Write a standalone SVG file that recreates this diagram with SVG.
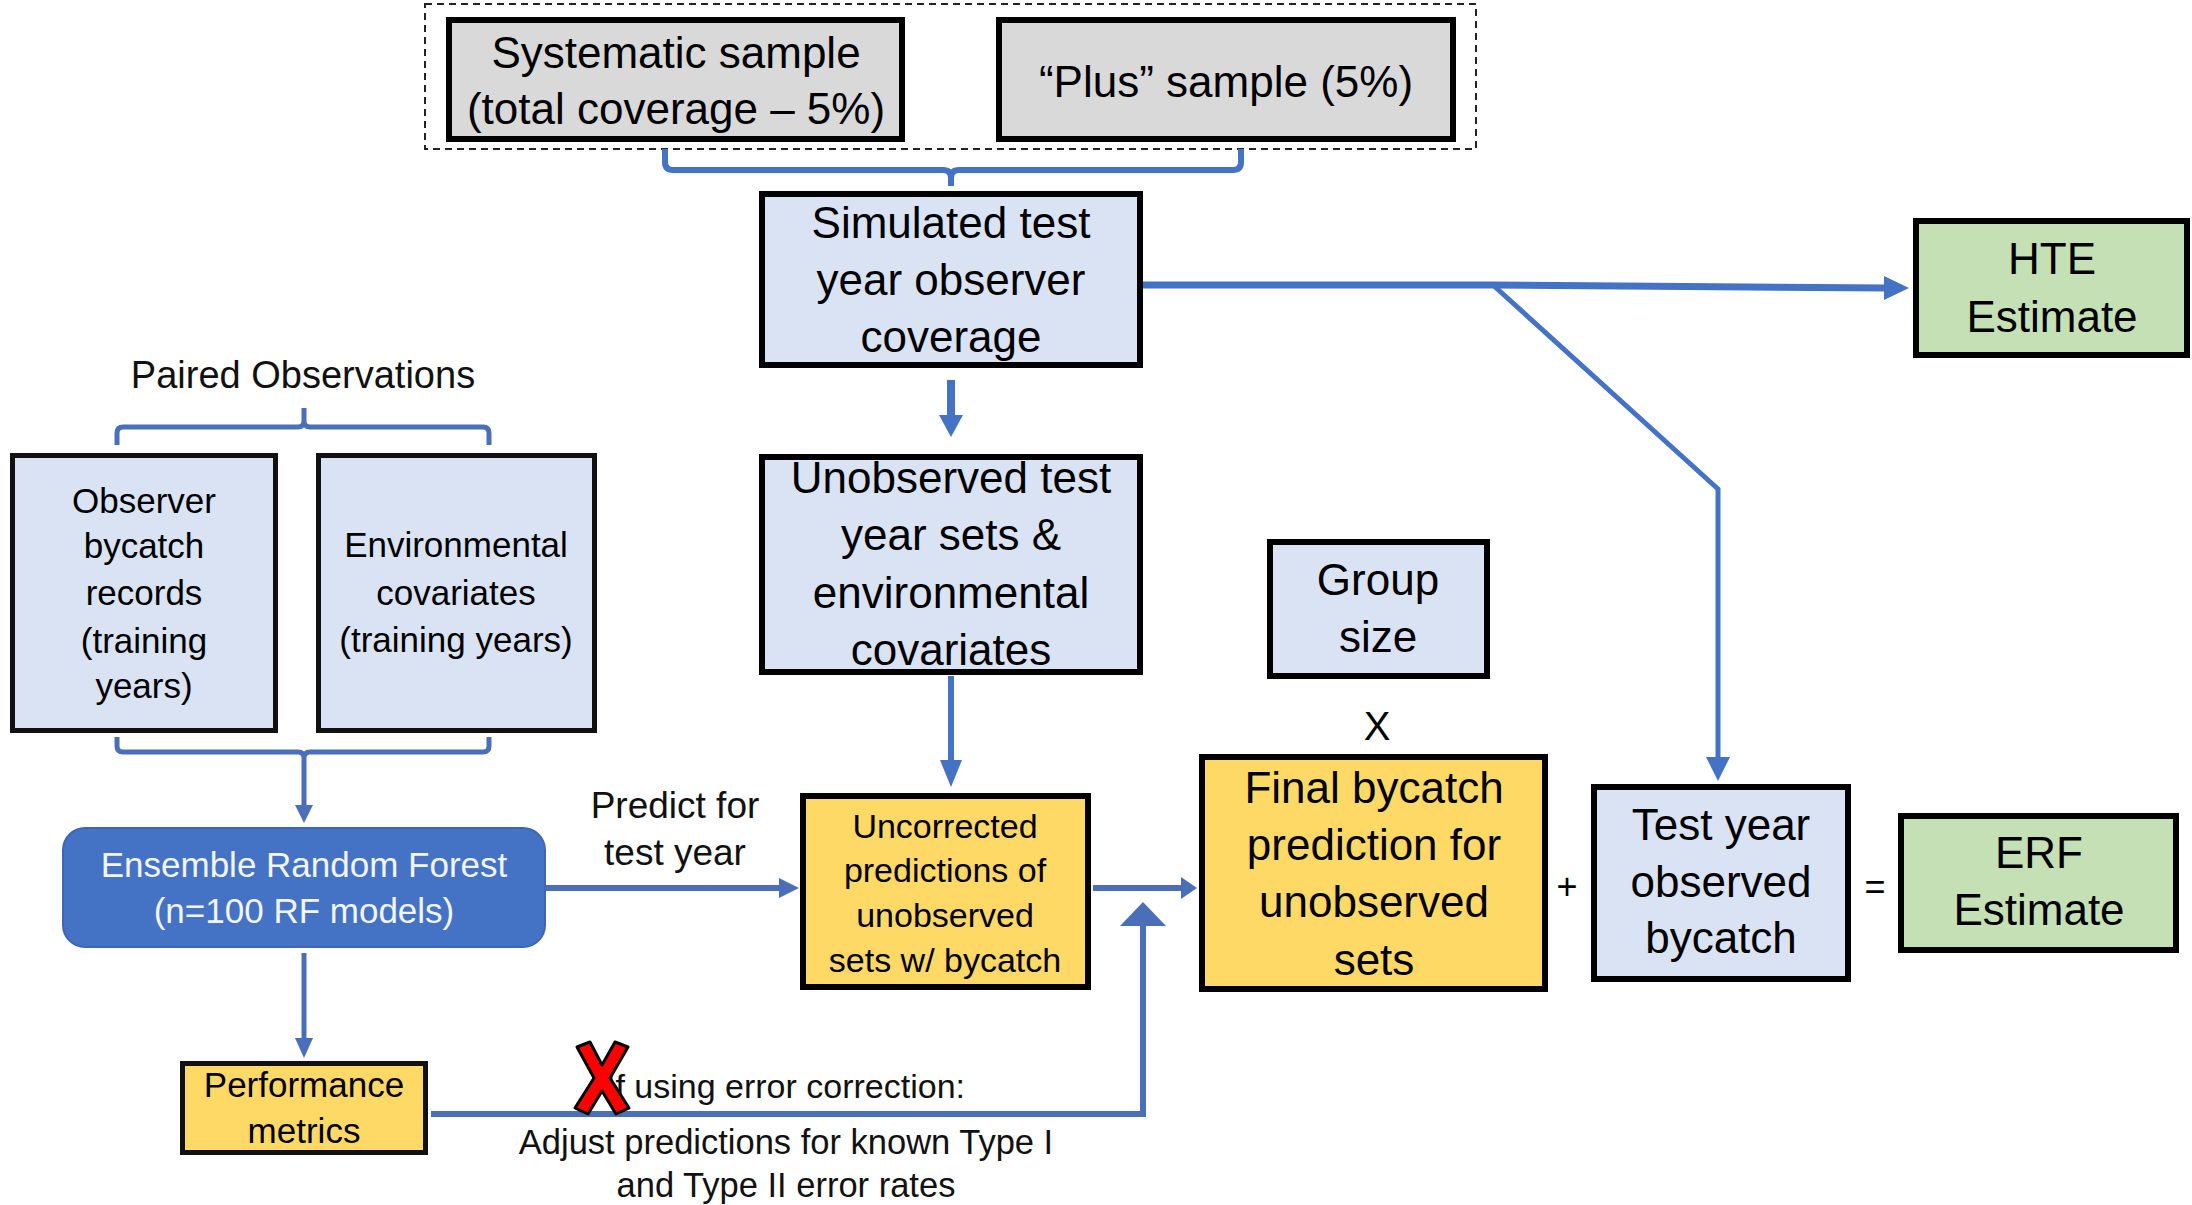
<svg xmlns="http://www.w3.org/2000/svg" width="2192" height="1205" viewBox="0 0 2192 1205">
  <style>
    text { font-family: "Liberation Sans", Arial, sans-serif; fill: #000; text-anchor: middle; }
    .big { font-size: 44px; }
    .mid { font-size: 35px; }
    .sm { font-size: 34px; }
    .box6 { stroke: #000; stroke-width: 6; }
    .box5 { stroke: #111; stroke-width: 5; }
    .gray { fill: #D9D9D9; }
    .blue { fill: #DAE3F3; }
    .gold { fill: #FFD966; }
    .green { fill: #C5E0B4; }
    .ln { fill: none; stroke: #4472C4; stroke-linejoin: miter; }
    .lnL { fill: none; stroke: #4A6FB8; }
    .hd { fill: #4472C4; }
    .hdL { fill: #4A6FB8; }
  </style>

  <rect width="2192" height="1205" fill="#fff"/>

  <!-- sampling design frame -->
  <rect x="425" y="4" width="1051" height="145" fill="none" stroke="#222" stroke-width="2" stroke-dasharray="7 5"/>

  <g id="systematic">
    <rect class="box6 gray" x="449" y="20" width="453" height="119"/>
    <text class="big" font-size="43" x="676" y="68">Systematic sample</text>
    <text class="big" font-size="43" x="676" y="124">(total coverage – 5%)</text>
  </g>

  <g id="plus">
    <rect class="box6 gray" x="999" y="20" width="454" height="119"/>
    <text class="big" font-size="43" x="1226" y="97">“Plus” sample (5%)</text>
  </g>

  <g id="simulated">
    <rect class="box6 blue" x="762" y="194" width="378" height="171"/>
    <text class="big" x="951" y="238">Simulated test</text>
    <text class="big" x="951" y="295">year observer</text>
    <text class="big" x="951" y="352">coverage</text>
  </g>

  <g id="unobserved">
    <rect class="box6 blue" x="762" y="457" width="378" height="215"/>
    <text class="big" x="951" y="493">Unobserved test</text>
    <text class="big" x="951" y="550">year sets &amp;</text>
    <text class="big" x="951" y="608">environmental</text>
    <text class="big" x="951" y="665">covariates</text>
  </g>

  <g id="hte">
    <rect class="box6 green" x="1916" y="221" width="271" height="134"/>
    <text class="big" font-size="43" x="2052" y="274">HTE</text>
    <text class="big" font-size="43" x="2052" y="332">Estimate</text>
  </g>

  <g id="groupsize">
    <rect class="box6 blue" x="1270" y="542" width="217" height="134"/>
    <text class="big" x="1378" y="595">Group</text>
    <text class="big" x="1378" y="652">size</text>
  </g>

  <g id="final">
    <rect class="box6 gold" x="1202" y="757" width="343" height="232"/>
    <text class="big" x="1374" y="803">Final bycatch</text>
    <text class="big" x="1374" y="860">prediction for</text>
    <text class="big" x="1374" y="917">unobserved</text>
    <text class="big" x="1374" y="975">sets</text>
  </g>

  <g id="testyear">
    <rect class="box6 blue" x="1594" y="787" width="254" height="192"/>
    <text class="big" font-size="43" x="1721" y="840">Test year</text>
    <text class="big" font-size="43" x="1721" y="897">observed</text>
    <text class="big" font-size="43" x="1721" y="953">bycatch</text>
  </g>

  <g id="erfestimate">
    <rect class="box6 green" x="1901" y="816" width="275" height="134"/>
    <text class="big" font-size="43" x="2039" y="868">ERF</text>
    <text class="big" font-size="43" x="2039" y="925">Estimate</text>
  </g>

  <g id="uncorrected">
    <rect class="box6 gold" x="803" y="796" width="285" height="191"/>
    <text class="sm" x="945" y="838">Uncorrected</text>
    <text class="sm" x="945" y="882">predictions of</text>
    <text class="sm" x="945" y="927">unobserved</text>
    <text class="sm" x="945" y="972">sets w/ bycatch</text>
  </g>

  <g id="observer">
    <rect class="box5 blue" x="12.5" y="455.5" width="263" height="275"/>
    <text class="mid" x="144" y="513">Observer</text>
    <text class="mid" x="144" y="558">bycatch</text>
    <text class="mid" x="144" y="605">records</text>
    <text class="mid" x="144" y="653">(training</text>
    <text class="mid" x="144" y="698">years)</text>
  </g>

  <g id="environmental">
    <rect class="box5 blue" x="318.5" y="455.5" width="276" height="275"/>
    <text class="mid" x="456" y="557">Environmental</text>
    <text class="mid" x="456" y="605">covariates</text>
    <text class="mid" x="456" y="652">(training years)</text>
  </g>

  <g id="erf">
    <rect x="63" y="828" width="482" height="119" rx="22" fill="#4472C4" stroke="#3E66B3" stroke-width="2"/>
    <text class="mid" x="304" y="877" style="fill:#F2F5FB">Ensemble Random Forest</text>
    <text class="mid" x="304" y="923" style="fill:#F2F5FB">(n=100 RF models)</text>
  </g>

  <g id="performance">
    <rect class="box5 gold" x="182.5" y="1063.5" width="243" height="89"/>
    <text class="mid" x="304" y="1097">Performance</text>
    <text class="mid" x="304" y="1143">metrics</text>
  </g>

  <!-- free-standing labels -->
  <g id="labels">
    <text font-size="38" x="303" y="388" style="fill:#111">Paired Observations</text>
    <text font-size="37" x="675" y="818" style="fill:#111">Predict for</text>
    <text font-size="37" x="675" y="865" style="fill:#111">test year</text>
    <text font-size="34" x="606" y="1098" style="text-anchor:start;fill:#111">If using error correction:</text>
    <text font-size="34.5" x="786" y="1154" style="fill:#111">Adjust predictions for known Type I</text>
    <text font-size="34.5" x="786" y="1197" style="fill:#111">and Type II error rates</text>
    <text font-size="40" x="1377" y="740">X</text>
    <text font-size="36" x="1567" y="899">+</text>
    <text font-size="36" x="1875" y="899">=</text>
  </g>

  <g id="connectors">
    <!-- brace joining the two samples -->
    <path class="ln" stroke-width="6" d="M665,149 V162 Q665,170 673,170 H943 Q951,170 951,178 V186 M951,178 Q951,170 959,170 H1233 Q1241,170 1241,162 V149"/>
    <!-- simulated coverage to unobserved sets -->
    <line class="ln" stroke-width="8" x1="951" y1="380" x2="951" y2="417"/>
    <polygon class="hd" points="939,415 963,415 951,437"/>
    <!-- unobserved sets to uncorrected predictions -->
    <line class="ln" stroke-width="6" x1="951" y1="676" x2="951" y2="762"/>
    <polygon class="hd" points="940,760 962,760 951,787"/>
    <!-- simulated coverage to HTE estimate -->
    <polyline class="ln" stroke-width="7" points="1143,285 1493,285 1886,288"/>
    <polygon class="hd" points="1884,276 1909,288 1884,300"/>
    <!-- branch to test year observed bycatch -->
    <polyline class="ln" stroke-width="5" points="1493,285 1718,489 1718,760"/>
    <polygon class="hd" points="1706,757 1730,757 1718,781"/>

    <!-- paired observations braces -->
    <path class="lnL" stroke-width="5" d="M117,445 V433 Q117,427 123,427 H298 Q304,427 304,421 V408 M304,421 Q304,427 310,427 H483 Q489,427 489,433 V445"/>
    <path class="lnL" stroke-width="5" d="M117,737 V746 Q117,752 123,752 H298 Q304,752 304,758 V806 M304,758 Q304,752 310,752 H483 Q489,752 489,746 V737"/>
    <polygon class="hdL" points="295,805 313,805 304,823"/>
    <!-- forest to performance metrics -->
    <line class="lnL" stroke-width="5" x1="304" y1="953" x2="304" y2="1040"/>
    <polygon class="hdL" points="295,1038 313,1038 304,1058"/>
    <!-- forest to uncorrected predictions -->
    <line class="lnL" stroke-width="6" x1="545" y1="888" x2="782" y2="888"/>
    <polygon class="hdL" points="779,878 799,888 779,898"/>
    <!-- uncorrected to final prediction -->
    <line class="lnL" stroke-width="6" x1="1093" y1="888" x2="1183" y2="888"/>
    <polygon class="hdL" points="1181,877 1197,888 1181,899"/>
    <!-- error correction feedback -->
    <polyline class="lnL" stroke-width="6" points="431,1114 1143,1114 1143,923"/>
    <polygon class="hdL" points="1120,926 1166,926 1143,902"/>
  </g>

  <!-- red cross over the correction path -->
  <g id="cross">
    <polygon points="577,1047 590,1042 602,1065 615,1042 628,1047 610,1078 629,1108 616,1114 602,1091 588,1114 575,1108 594,1078" fill="#FF0000" stroke="#000" stroke-width="3" stroke-linejoin="round"/>
  </g>
</svg>
